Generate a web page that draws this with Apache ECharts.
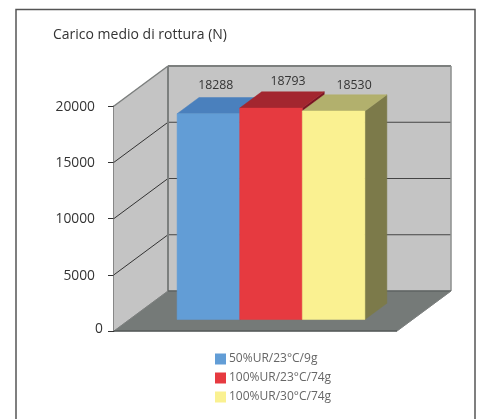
<!DOCTYPE html>
<html>
<head>
<meta charset="utf-8">
<style>html,body{margin:0;padding:0;background:#fff}#chart{width:480px;height:419px}</style>
<script src="https://cdn.jsdelivr.net/npm/echarts@6/dist/echarts.min.js"></script>
</head>
<body>
<div id="chart"></div>
<script>
// Mean breaking load for each test condition
const categoryLabels = ['Carico'];
const seriesNames = ['50%UR/23°C/9g', '100%UR/23°C/74g', '100%UR/30°C/74g'];
const loadConditionA = [18288];
const loadConditionB = [18793];
const loadConditionC = [18530];
const yTicks = [0, 5000, 10000, 15000, 20000];

// Face colours of each box: front, top, side
const faces = [
  ['#629dd6', '#4a80bd', '#35608f'],
  ['#e63a40', '#a3262f', '#7a1423'],
  ['#faf191', '#b2b06d', '#7c7a4a']
];
const FONT = '"Open Sans", "Noto Sans", sans-serif';

// Oblique projection: how far the back of the floor sits from its front edge
const DEPTH = [54, -40];
const BAR_FRONT = 0.287, BAR_BACK = 0.694, BAR_SHARE = 0.2212;
const labelShift = [[-3.6, -28.5], [6, -27], [9.5, -25.5]];

const chart = echarts.init(document.getElementById('chart'));

const at = (p, d) => [p[0] + DEPTH[0] * d, p[1] + DEPTH[1] * d];
const poly = (points, fill, z2) => ({
  type: 'polygon', z2: z2 || 0, shape: { points }, style: { fill, stroke: fill, lineWidth: 0.5 }
});
const seg = (a, b, stroke, lineWidth) => ({
  type: 'line', shape: { x1: a[0], y1: a[1], x2: b[0], y2: b[1] }, style: { stroke, lineWidth }
});

// Back wall, side wall, floor and the gridlines running across them
function renderRoom(params, api) {
  const band = api.size([1, 0])[0];
  const cx = api.coord([0, 0])[0];
  const left = cx - band / 2, right = cx + band / 2;
  const yOf = v => api.coord([0, v])[1];
  const p = (x, v) => [x, yOf(v)];
  const maxV = yTicks[yTicks.length - 1];
  const children = [
    poly([p(left, 0), at(p(left, 0), 1), at(p(left, maxV), 1), p(left, maxV)], '#c4c4c4'),
    poly([at(p(left, 0), 1), at(p(right, 0), 1), at(p(right, maxV), 1), at(p(left, maxV), 1)], '#c4c4c4'),
    poly([p(left, 0), p(right, 0), at(p(right, 0), 1), at(p(left, 0), 1)], '#757a78')
  ];
  yTicks.slice(1, -1).forEach(v => {
    children.push(seg(p(left, v), at(p(left, v), 1), '#333', 1));
    children.push(seg(at(p(left, v), 1), at(p(right, v), 1), '#444', 1));
  });
  const edge = '#7c7f7e';
  children.push(
    seg(p(left, maxV), at(p(left, maxV), 1), edge, 1.5),
    seg(at(p(left, maxV), 1), at(p(right, maxV), 1), edge, 2),
    seg(at(p(left, maxV), 1), at(p(left, 0), 1), edge, 2),
    seg(at(p(right, maxV), 1), at(p(right, 0), 1), '#8f9291', 1.5),
    seg(at(p(left, 0), 1), at(p(right, 0), 1), '#5f6463', 1.5),
    seg(p(left, 0), at(p(left, 0), 1), edge, 1),
    seg(p(right, 0), at(p(right, 0), 1), edge, 1),
    seg(p(left, 0), p(right, 0), '#555a59', 1.5)
  );
  return { type: 'group', children };
}

// One box per series, placed side by side within the single category band
function boxRenderer(index) {
  return function (params, api) {
    const value = api.value(1);
    const band = api.size([1, 0])[0];
    const w = band * BAR_SHARE;
    const base = api.coord([api.value(0), 0]);
    const top = api.coord([api.value(0), value]);
    const x0 = base[0] + (index - 1.5) * w, x1 = x0 + w;
    const f = [
      at([x0, base[1]], BAR_FRONT), at([x1, base[1]], BAR_FRONT),
      at([x1, top[1]], BAR_FRONT), at([x0, top[1]], BAR_FRONT)
    ];
    const b = [
      at([x0, top[1]], BAR_BACK), at([x1, top[1]], BAR_BACK),
      at([x1, base[1]], BAR_BACK)
    ];
    const labelAnchor = at([(x0 + x1) / 2, top[1]], BAR_FRONT);
    return {
      type: 'group',
      children: [
        poly([f[1], b[2], b[1], f[2]], faces[index][2]),
        poly([f[3], f[2], b[1], b[0]], faces[index][1]),
        poly(f, faces[index][0]),
        {
          type: 'text',
          style: {
            text: String(value),
            x: labelAnchor[0] + (BAR_BACK - BAR_FRONT) * DEPTH[0] / 2 + labelShift[index][0],
            y: labelAnchor[1] + labelShift[index][1],
            textAlign: 'center', textVerticalAlign: 'middle',
            fill: '#333', font: '12.3px ' + FONT
          }
        }
      ]
    };
  };
}

const boxSeries = [loadConditionA, loadConditionB, loadConditionC].map((values, i) => ({
  type: 'custom',
  name: seriesNames[i],
  coordinateSystem: 'cartesian2d',
  clip: false,
  silent: true,
  z: 3 + i,
  itemStyle: { color: faces[i][0] },
  encode: { x: 0, y: 1 },
  data: values.map((v, k) => [k, v]),
  renderItem: boxRenderer(i)
}));

chart.setOption({
  animation: false,
  backgroundColor: '#fff',
  graphic: [{
    type: 'rect', z: 0, silent: true,
    shape: { x: 16, y: 9.5, width: 459, height: 420 },
    style: { fill: 'none', stroke: '#555', lineWidth: 1.5 }
  }],
  title: {
    text: 'Carico medio di rottura (N)',
    left: 53, top: 28, padding: 0,
    textStyle: { fontFamily: FONT, fontSize: 14, fontWeight: 'normal', color: '#333' }
  },
  legend: {
    orient: 'vertical', left: 215, top: 353, padding: 0,
    icon: 'rect', itemWidth: 11, itemHeight: 11, itemGap: 7,
    selectedMode: false,
    data: seriesNames,
    textStyle: { fontFamily: FONT, fontSize: 12, color: '#666', padding: [0, 0, 0, -2] }
  },
  grid: { left: 114, top: 106, width: 283, height: 225, containLabel: false },
  xAxis: { type: 'category', data: categoryLabels, show: false },
  yAxis: {
    type: 'value', min: 0, max: 20000, interval: 5000,
    axisLine: { show: true, lineStyle: { color: '#444', width: 1.5 } },
    axisTick: { show: true, length: 6, lineStyle: { color: '#333', width: 1 } },
    axisLabel: {
      margin: 19, fontFamily: FONT, fontSize: 13.8, color: '#333', padding: [2, 0, 0, 0],
      // the zero label sits closer to the axis than the others
      formatter: v => (v === 0 ? '{zero|0}' : String(v)),
      rich: { zero: { fontFamily: FONT, fontSize: 13.8, color: '#333', padding: [0, -8, 6, 0] } }
    },
    splitLine: { show: false }
  },
  series: [{
    type: 'custom',
    name: 'room',
    coordinateSystem: 'cartesian2d',
    clip: false,
    silent: true,
    z: 1,
    encode: { x: 0, y: 1 },
    data: [[0, 0]],
    renderItem: renderRoom
  }].concat(boxSeries)
});
</script>
</body>
</html>
